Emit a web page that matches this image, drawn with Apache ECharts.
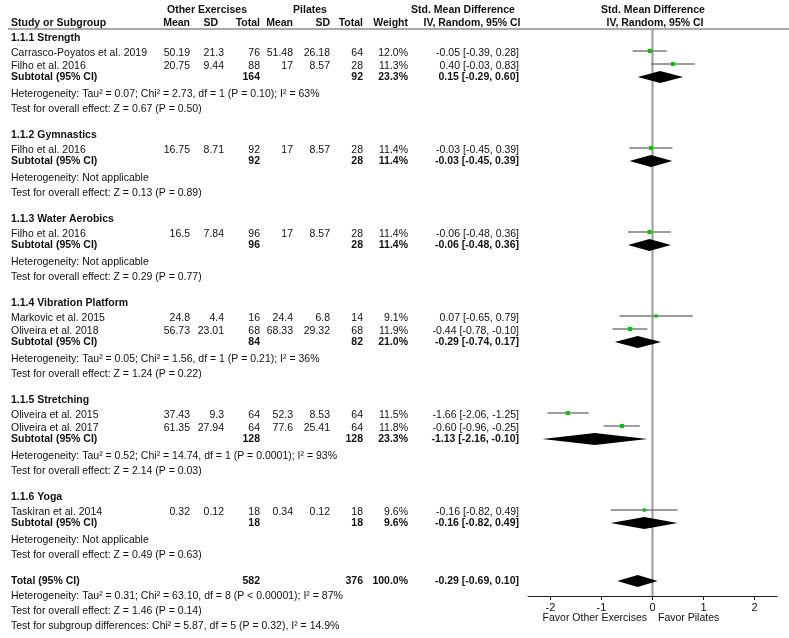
<!DOCTYPE html>
<html>
<head>
<meta charset="utf-8">
<title>Forest plot</title>
<script src="https://cdn.jsdelivr.net/npm/echarts@6/dist/echarts.min.js"></script>
<style>
  html, body { margin: 0; padding: 0; background: #fff; }
  #chart { width: 789px; height: 638px; }
</style>
</head>
<body>
<div id="chart"></div>
<script>
"use strict";

// --- studies ---
const studyNames = [
  "Carrasco-Poyatos et al. 2019",
  "Filho et al. 2016",
  "Filho et al. 2016",
  "Filho et al. 2016",
  "Markovic et al. 2015",
  "Oliveira et al. 2018",
  "Oliveira et al. 2015",
  "Oliveira et al. 2017",
  "Taskiran et al. 2014",
];
const studyGroup = [0, 0, 1, 2, 3, 3, 4, 4, 5];
const oeMean = [50.19, 20.75, 16.75, 16.5, 24.8, 56.73, 37.43, 61.35, 0.32];
const oeSD = [21.3, 9.44, 8.71, 7.84, 4.4, 23.01, 9.3, 27.94, 0.12];
const oeTotal = [76, 88, 92, 96, 16, 68, 64, 64, 18];
const plMean = [51.48, 17, 17, 17, 24.4, 68.33, 52.3, 77.6, 0.34];
const plSD = [26.18, 8.57, 8.57, 8.57, 6.8, 29.32, 8.53, 25.41, 0.12];
const plTotal = [64, 28, 28, 28, 14, 68, 64, 64, 18];
const studyWeight = [12.0, 11.3, 11.4, 11.4, 9.1, 11.9, 11.5, 11.8, 9.6];
const studySmd = [-0.05, 0.40, -0.03, -0.06, 0.07, -0.44, -1.66, -0.60, -0.16];
const studyLo = [-0.39, -0.03, -0.45, -0.48, -0.65, -0.78, -2.06, -0.96, -0.82];
const studyHi = [0.28, 0.83, 0.39, 0.36, 0.79, -0.10, -1.25, -0.25, 0.49];

// --- subgroups ---
const groupTitles = [
  "1.1.1 Strength",
  "1.1.2 Gymnastics",
  "1.1.3 Water Aerobics",
  "1.1.4 Vibration Platform",
  "1.1.5 Stretching",
  "1.1.6 Yoga",
];
const subOeTotal = [164, 92, 96, 84, 128, 18];
const subPlTotal = [92, 28, 28, 82, 128, 18];
const subWeight = [23.3, 11.4, 11.4, 21.0, 23.3, 9.6];
const subSmd = [0.15, -0.03, -0.06, -0.29, -1.13, -0.16];
const subLo = [-0.29, -0.45, -0.48, -0.74, -2.16, -0.82];
const subHi = [0.60, 0.39, 0.36, 0.17, -0.10, 0.49];
const subHet = [
  "Heterogeneity: Tau² = 0.07; Chi² = 2.73, df = 1 (P = 0.10); I² = 63%",
  "Heterogeneity: Not applicable",
  "Heterogeneity: Not applicable",
  "Heterogeneity: Tau² = 0.05; Chi² = 1.56, df = 1 (P = 0.21); I² = 36%",
  "Heterogeneity: Tau² = 0.52; Chi² = 14.74, df = 1 (P = 0.0001); I² = 93%",
  "Heterogeneity: Not applicable",
];
const subTest = [
  "Test for overall effect: Z = 0.67 (P = 0.50)",
  "Test for overall effect: Z = 0.13 (P = 0.89)",
  "Test for overall effect: Z = 0.29 (P = 0.77)",
  "Test for overall effect: Z = 1.24 (P = 0.22)",
  "Test for overall effect: Z = 2.14 (P = 0.03)",
  "Test for overall effect: Z = 0.49 (P = 0.63)",
];

// --- overall ---
const totalCounts = [582, 376];
const totalWeight = 100.0;
const totalEffect = [-0.29, -0.69, 0.10];
const totalNotes = [
  "Heterogeneity: Tau² = 0.31; Chi² = 63.10, df = 8 (P < 0.00001); I² = 87%",
  "Test for overall effect: Z = 1.46 (P = 0.14)",
  "Test for subgroup differences: Chi² = 5.87, df = 5 (P = 0.32), I² = 14.9%",
];

const xTicks = [-2, -1, 0, 1, 2];
const favorLabels = ["Favor Other Exercises", "Favor Pilates"];

// --- layout ---
const FONT = '"Liberation Sans", Arial, sans-serif';
const FS = 10.5;
const TXT = "#111";
const TEXT_DY = 1.5; // text sits a bit lower than the marks
const ROW = { head: 15, study: 13, sub: 11, het: 17, test: 15, gap: 26, note: 15 };
const COL = { name: 11, oeMean: 190, oeSD: 224, oeTotal: 260, plMean: 293, plSD: 330, plTotal: 363, weight: 408, ci: 519 };

/** @type {any[]} */
const textEls = [];
const addText = (text, x, y, align, bold) => {
  textEls.push({
    type: "text",
    x,
    y: y + TEXT_DY,
    silent: true,
    style: {
      text: String(text),
      fill: TXT,
      font: `${bold ? "bold " : ""}${FS}px ${FONT}`,
      align,
      verticalAlign: "middle",
      textAlign: align,
      textVerticalAlign: "middle",
    },
  });
};

const fmtCI = (e, l, h) => `${e.toFixed(2)} [${l.toFixed(2)}, ${h.toFixed(2)}]`;
const fmtW = (w) => `${w.toFixed(1)}%`;

// header
addText("Other Exercises", 207, 8.5, "center", true);
addText("Pilates", 310, 8.5, "center", true);
addText("Std. Mean Difference", 463, 8.5, "center", true);
addText("Std. Mean Difference", 653, 8.5, "center", true);
addText("Study or Subgroup", COL.name, 21.5, "left", true);
addText("Mean", COL.oeMean, 21.5, "right", true);
addText("SD", 218, 21.5, "right", true);
addText("Total", COL.oeTotal, 21.5, "right", true);
addText("Mean", COL.plMean, 21.5, "right", true);
addText("SD", COL.plSD, 21.5, "right", true);
addText("Total", COL.plTotal, 21.5, "right", true);
addText("Weight", COL.weight, 21.5, "right", true);
addText("IV, Random, 95% CI", 472, 21.5, "center", true);
addText("IV, Random, 95% CI", 655, 21.5, "center", true);

const studyMarks = [];
const diamonds = [];

let y = 37;
groupTitles.forEach((title, g) => {
  addText(title, COL.name, y, "left", true);
  let first = true;
  studyNames.forEach((name, i) => {
    if (studyGroup[i] !== g) return;
    y += first ? ROW.head : ROW.study;
    first = false;
    addText(name, COL.name, y, "left", false);
    addText(oeMean[i], COL.oeMean, y, "right", false);
    addText(oeSD[i], COL.oeSD, y, "right", false);
    addText(oeTotal[i], COL.oeTotal, y, "right", false);
    addText(plMean[i], COL.plMean, y, "right", false);
    addText(plSD[i], COL.plSD, y, "right", false);
    addText(plTotal[i], COL.plTotal, y, "right", false);
    addText(fmtW(studyWeight[i]), COL.weight, y, "right", false);
    addText(fmtCI(studySmd[i], studyLo[i], studyHi[i]), COL.ci, y, "right", false);
    studyMarks.push([studySmd[i], studyLo[i], studyHi[i], y - 1, studyWeight[i]]);
  });
  y += ROW.sub;
  addText("Subtotal (95% CI)", COL.name, y, "left", true);
  addText(subOeTotal[g], COL.oeTotal, y, "right", true);
  addText(subPlTotal[g], COL.plTotal, y, "right", true);
  addText(fmtW(subWeight[g]), COL.weight, y, "right", true);
  addText(fmtCI(subSmd[g], subLo[g], subHi[g]), COL.ci, y, "right", true);
  diamonds.push([subSmd[g], subLo[g], subHi[g], y + 1]);
  y += ROW.het;
  addText(subHet[g], COL.name, y, "left", false);
  y += ROW.test;
  addText(subTest[g], COL.name, y, "left", false);
  y += ROW.gap;
});

addText("Total (95% CI)", COL.name, y, "left", true);
addText(totalCounts[0], COL.oeTotal, y, "right", true);
addText(totalCounts[1], COL.plTotal, y, "right", true);
addText(fmtW(totalWeight), COL.weight, y, "right", true);
addText(fmtCI(totalEffect[0], totalEffect[1], totalEffect[2]), COL.ci, y, "right", true);
diamonds.push([totalEffect[0], totalEffect[1], totalEffect[2], y + 1]);
totalNotes.forEach((note) => {
  y += ROW.note;
  addText(note, COL.name, y, "left", false);
});

addText(favorLabels[0], 647, 617, "right", false);
addText(favorLabels[1], 658, 617, "left", false);

// header rule
textEls.push({
  type: "line",
  silent: true,
  shape: { x1: 8, y1: 29, x2: 789, y2: 29 },
  style: { stroke: "#8c8c8c", lineWidth: 1.5 },
});

const Y_TOP = 29;
const Y_AXIS = 596;

const chart = echarts.init(document.getElementById("chart"));

chart.setOption({
  animation: false,
  backgroundColor: "#fff",
  grid: { left: 528, right: 12, top: Y_TOP, bottom: 638 - Y_AXIS },
  xAxis: {
    type: "value",
    min: -2.44,
    max: 2.44,
    splitLine: { show: false },
    axisLine: { onZero: false, lineStyle: { color: "#222", width: 1 } },
    axisTick: { customValues: xTicks, length: 4, lineStyle: { color: "#222" } },
    axisLabel: { customValues: xTicks, color: TXT, fontSize: 11, fontFamily: FONT, margin: 6 },
  },
  yAxis: { type: "value", min: Y_TOP, max: Y_AXIS, inverse: true, show: false },
  series: [
    {
      // line of no effect
      type: "custom",
      z: 1,
      silent: true,
      data: [[0]],
      renderItem: (params, api) => {
        const a = api.coord([api.value(0), Y_TOP]);
        const b = api.coord([api.value(0), Y_AXIS]);
        return {
          type: "line",
          shape: { x1: a[0], y1: a[1], x2: b[0], y2: b[1] },
          style: { stroke: "#9a9a9a", lineWidth: 2 },
        };
      },
    },
    {
      type: "custom",
      z: 3,
      silent: true,
      data: studyMarks,
      renderItem: (params, api) => {
        const yv = api.value(3);
        const p = api.coord([api.value(0), yv]);
        const lo = api.coord([api.value(1), yv]);
        const hi = api.coord([api.value(2), yv]);
        const s = api.value(4) * 0.35;
        return {
          type: "group",
          children: [
            {
              type: "line",
              shape: { x1: lo[0], y1: lo[1], x2: hi[0], y2: hi[1] },
              style: { stroke: "#7d7d7d", lineWidth: 1.7 },
            },
            {
              type: "rect",
              shape: { x: p[0] - s / 2, y: p[1] - s / 2, width: s, height: s },
              style: { fill: "#00c800" },
            },
          ],
        };
      },
    },
    {
      type: "custom",
      z: 2,
      silent: true,
      data: diamonds,
      renderItem: (params, api) => {
        const yv = api.value(3);
        const p = api.coord([api.value(0), yv]);
        const lo = api.coord([api.value(1), yv]);
        const hi = api.coord([api.value(2), yv]);
        const h = 6;
        return {
          type: "polygon",
          shape: { points: [[lo[0], lo[1]], [p[0], p[1] - h], [hi[0], hi[1]], [p[0], p[1] + h]] },
          style: { fill: "#000" },
        };
      },
    },
  ],
  graphic: textEls,
});
</script>
</body>
</html>
